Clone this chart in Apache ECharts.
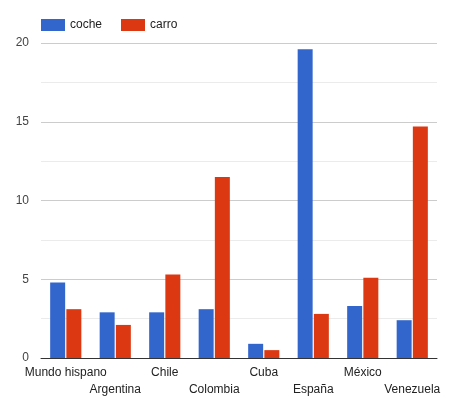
<!DOCTYPE html>
<html>
<head>
<meta charset="utf-8">
<script src="https://cdn.jsdelivr.net/npm/echarts@6/dist/echarts.min.js"></script>
<style>
  html, body { margin: 0; padding: 0; background: #fff; }
  #chart { width: 461px; height: 399px; }
</style>
</head>
<body>
<div id="chart"></div>
<script>
const categories = ['Mundo hispano', 'Argentina', 'Chile', 'Colombia', 'Cuba', 'España', 'México', 'Venezuela']
const cocheValues = [4.8, 2.9, 2.9, 3.1, 0.9, 19.6, 3.3, 2.4]
const carroValues = [3.1, 2.1, 5.3, 11.5, 0.5, 2.8, 5.1, 14.7]
const yTicks = [0, 5, 10, 15, 20]

const chart = echarts.init(document.getElementById('chart'))

const option = {
  animation: false,
  textStyle: { fontFamily: 'Liberation Sans, Arial, sans-serif' },
  color: ['#3366cc', '#dc3912'],
  legend: {
    left: 41,
    top: 19,
    padding: 0,
    itemWidth: 24,
    itemHeight: 12,
    itemGap: 19,
    icon: 'rect',
    textStyle: { fontSize: 12, color: '#222' },
    data: ['coche', 'carro']
  },
  grid: {
    left: 41,
    right: 24,
    top: 43,
    bottom: 41
  },
  xAxis: {
    type: 'category',
    data: categories,
    axisLine: { lineStyle: { color: '#333' } },
    axisTick: { show: false },
    axisLabel: {
      interval: 0,
      color: '#222',
      fontSize: 12,
      margin: 6,
      lineHeight: 17,
      // alternate labels onto a second row
      formatter: (value, idx) => (idx % 2 === 1 ? '\n' + value : value)
    }
  },
  yAxis: {
    type: 'value',
    min: yTicks[0],
    max: yTicks[yTicks.length - 1],
    interval: 5,
    axisLine: { show: false },
    axisTick: { show: false },
    axisLabel: { color: '#444', fontSize: 12, margin: 12 },
    splitLine: { lineStyle: { color: '#cccccc' } },
    minorTick: { show: false, splitNumber: 2 },
    minorSplitLine: { show: true, lineStyle: { color: '#ebebeb' } }
  },
  series: [
    {
      name: 'coche',
      type: 'bar',
      data: cocheValues,
      barGap: '8%',
      barCategoryGap: '37%'
    },
    {
      name: 'carro',
      type: 'bar',
      data: carroValues,
      barGap: '8%',
      barCategoryGap: '37%'
    }
  ]
}

chart.setOption(option)
</script>
</body>
</html>
